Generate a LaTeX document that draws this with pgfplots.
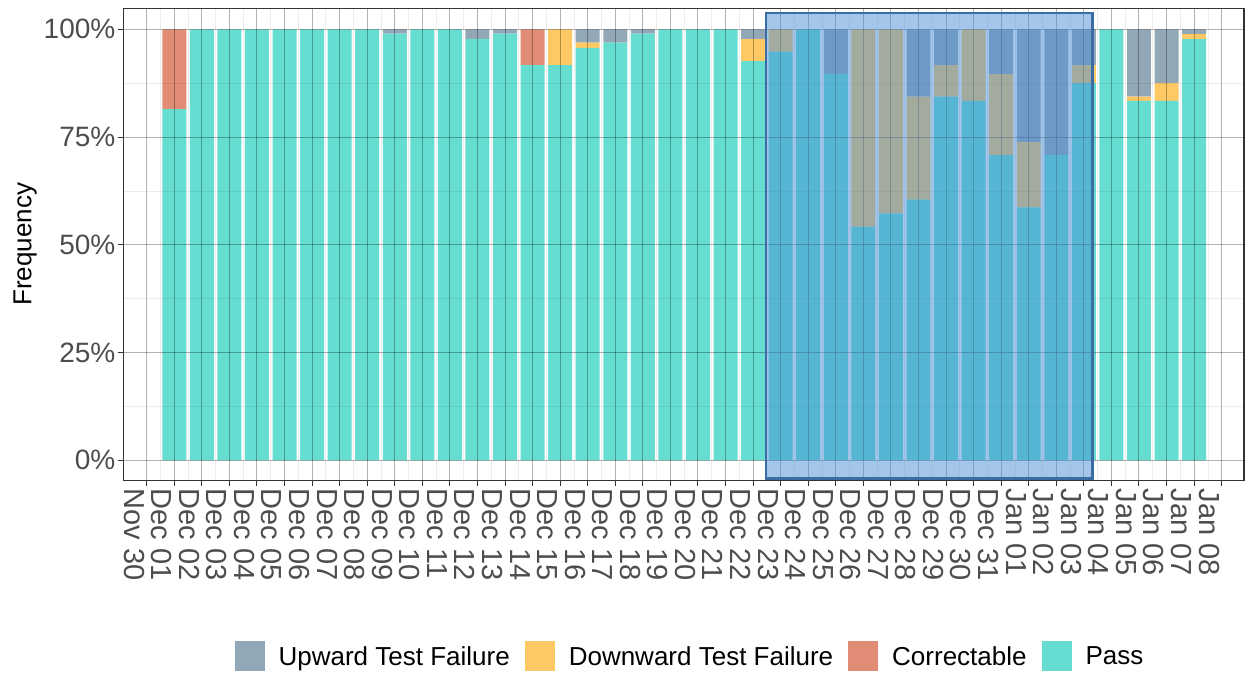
\documentclass[border=0pt]{standalone}
\usepackage{fontspec}
\setmainfont{Liberation Sans}
\usepackage{pgfplots}
\usepackage{pgfplotstable}
\pgfplotsset{compat=1.18}
\definecolor{cpass}{RGB}{102,221,209}
\definecolor{ccorr}{RGB}{225,140,117}
\definecolor{cdown}{RGB}{254,200,100}
\definecolor{cup}{RGB}{146,168,182}
\definecolor{rectfill}{RGB}{74,142,216}
\definecolor{rectline}{RGB}{60,108,164}
\definecolor{ticktext}{RGB}{77,77,77}
\pgfplotstableread{
x pass corr down up
1 81.5 18.5 0 0
2 100 0 0 0
3 100 0 0 0
4 100 0 0 0
5 100 0 0 0
6 100 0 0 0
7 100 0 0 0
8 100 0 0 0
9 99.0 0 0 1.0
10 100 0 0 0
11 100 0 0 0
12 97.8 0 0 2.2
13 99.0 0 0 1.0
14 91.7 8.3 0 0
15 91.7 0 8.3 0
16 95.7 0 1.2 3.1
17 96.9 0 0 3.1
18 99.0 0 0 1.0
19 100 0 0 0
20 100 0 0 0
21 100 0 0 0
22 92.6 0 5.1 2.3
23 94.8 0 5.2 0
24 100 0 0 0
25 89.6 0 0 10.4
26 54.2 0 45.8 0
27 57.3 0 42.7 0
28 60.5 0 23.9 15.6
29 84.4 0 7.3 8.3
30 83.4 0 16.6 0
31 70.8 0 18.8 10.4
32 58.7 0 15.2 26.1
33 70.8 0 0 29.2
34 87.5 0 4.2 8.3
35 100 0 0 0
36 83.4 0 1.0 15.6
37 83.4 0 4.1 12.5
38 97.7 0 1.2 1.1
}\datatable
\pgfplotsset{sqlegend/.style={legend image code/.code={\fill[##1,draw=none] (0pt,-6.85pt) rectangle (15pt,8.15pt);}}}
\begin{document}
\begin{tikzpicture}
\begin{axis}[
  name=ax,
  scale only axis,
  width=560.15pt, height=236.1pt,
  xmin=-0.835, xmax=39.81,
  ymin=-4.69, ymax=104.87,
  ybar stacked, bar width=0.87,
  axis on top,
  xtick={0,...,39},
  xticklabels={Nov 30,Dec 01,Dec 02,Dec 03,Dec 04,Dec 05,Dec 06,Dec 07,Dec 08,Dec 09,Dec 10,Dec 11,Dec 12,Dec 13,Dec 14,Dec 15,Dec 16,Dec 17,Dec 18,Dec 19,Dec 20,Dec 21,Dec 22,Dec 23,Dec 24,Dec 25,Dec 26,Dec 27,Dec 28,Dec 29,Dec 30,Dec 31,Jan 01,Jan 02,Jan 03,Jan 04,Jan 05,Jan 06,Jan 07,Jan 08},
  ytick={0,25,50,75,100},
  yticklabels={0\%,25\%,50\%,75\%,100\%},
  minor x tick num=1, minor y tick num=1,
  grid=both,
  major grid style={black, opacity=0.3, line width=0.5pt},
  minor grid style={black, opacity=0.07, line width=0.4pt},
  tick align=outside, major tick length=3pt, minor tick length=0pt,
  tick pos=left,
  tick style={black!80, line width=0.5pt},
  axis line style={black!80, line width=0.6pt},
  /pgf/number format/assume math mode=true,
  xticklabel style={rotate=-90, anchor=north west, font=\fontsize{14.5}{16}\selectfont, text=ticktext, inner sep=1pt},
  yticklabel style={font=\fontsize{14}{16}\selectfont, text=ticktext, inner sep=1pt},
  ylabel={Frequency},
  ylabel style={at={(axis description cs:-0.088,0.5)}, anchor=center, font=\fontsize{13}{15}\selectfont},
  legend style={at={(0.5046,-0.372)}, anchor=center, draw=none, fill=none,
    font=\fontsize{13}{15}\selectfont, nodes={inner sep=0pt},
    /tikz/every odd column/.append style={column sep=7pt},
    /tikz/every even column/.append style={column sep=7.5pt}},
  legend columns=4,
  reverse legend,
  legend cell align=left,
]
\addplot[fill=cpass, draw=none, sqlegend] table[x=x, y=pass] {\datatable};
\addlegendentry{Pass}
\addplot[fill=ccorr, draw=none, sqlegend] table[x=x, y=corr] {\datatable};
\addlegendentry{Correctable}
\addplot[fill=cdown, draw=none, sqlegend] table[x=x, y=down] {\datatable};
\addlegendentry{Downward Test Failure}
\addplot[fill=cup, draw=none, sqlegend] table[x=x, y=up] {\datatable};
\addlegendentry{Upward Test Failure}
\coordinate (r1) at (axis cs:22.47,-4.2);
\coordinate (r2) at (axis cs:34.31,103.8);
\end{axis}
\draw[draw=rectline, line width=1.25pt, fill=rectfill, fill opacity=0.5] (r1) rectangle (r2);
\pgfresetboundingbox
\path[use as bounding box] ([shift={(-61.85pt,-96.25pt)}]ax.south west) rectangle ([shift={(2pt,4.15pt)}]ax.north east);
\end{tikzpicture}
\end{document}
